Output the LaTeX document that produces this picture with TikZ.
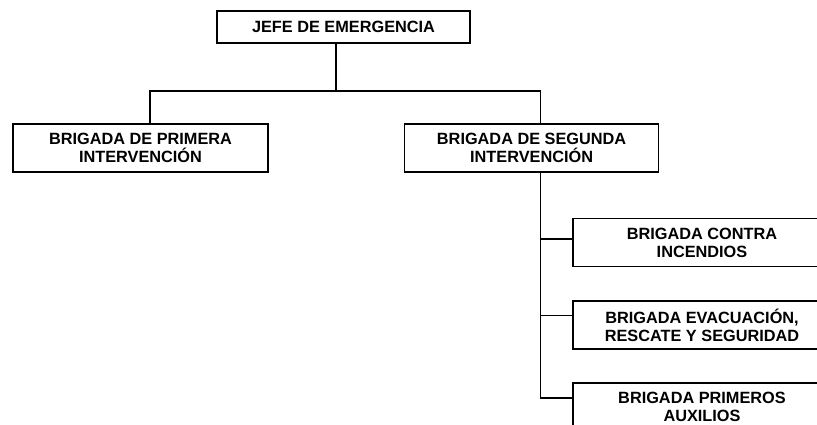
\documentclass[tikz,border=0pt]{standalone}
\usepackage{fontspec}
\setmainfont{Liberation Sans}
\usetikzlibrary{positioning}

\begin{document}
\begin{tikzpicture}[x=1pt, y=1pt,
    cargo/.style={draw, line width=1.6pt, align=center, inner sep=0pt,
      minimum height=48pt, font=\bfseries\fontsize{16.3}{18}\selectfont},
    enlace/.style={line width=1.6pt}]
  \clip (0,0) rectangle (817,424);

  \node [cargo, minimum width=253pt, minimum height=32pt] (jefe) at (343.5,397) {JEFE DE EMERGENCIA};
  \node [cargo, minimum width=255pt] (primera) at (140.5,276) {BRIGADA DE PRIMERA\\INTERVENCIÓN};
  \node [cargo, minimum width=254pt, right=135pt of primera] (segunda) {BRIGADA DE SEGUNDA\\INTERVENCIÓN};

  \node [cargo, minimum width=258pt] (incendios) at (702,181.5) {BRIGADA CONTRA\\INCENDIOS};
  \node [cargo, minimum width=258pt, below=33pt of incendios] (evacuacion) {BRIGADA EVACUACIÓN,\\RESCATE Y SEGURIDAD};
  \node [cargo, minimum width=258pt, below=32pt of evacuacion] (auxilios) {BRIGADA PRIMEROS\\AUXILIOS};

  % upper level
  \draw [enlace] ([xshift=-7.5pt]jefe.south) -- ++(0,-47) coordinate (ramal);
  \draw [enlace] ([xshift=9.5pt]primera.north) |- (ramal) -| ([xshift=9pt]segunda.north);

  % brigades under the second one
  \coordinate (tronco) at ([xshift=9pt]segunda.south);
  \coordinate (t1) at ([yshift=3.5pt]incendios.west);
  \coordinate (t2) at ([yshift=9.5pt]evacuacion.west);
  \coordinate (t3) at ([yshift=9pt]auxilios.west);
  \draw [enlace] (tronco) |- (t3);
  \draw [enlace] (t1 -| tronco) -- (t1);
  \draw [enlace] (t2 -| tronco) -- (t2);
\end{tikzpicture}
\end{document}
